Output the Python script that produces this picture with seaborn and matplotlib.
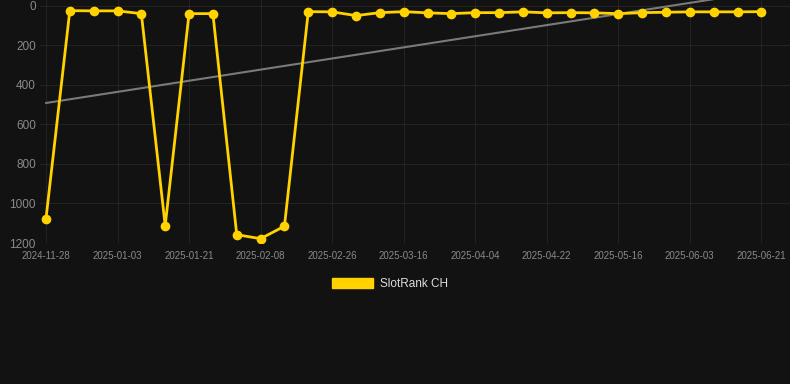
import numpy as np
import pandas as pd
import matplotlib
matplotlib.use("Agg")
import matplotlib.pyplot as plt
from matplotlib.patches import Patch
import seaborn as sns

# dates of each observation (only every third is labelled on the axis)
dates = [
    "2024-11-28", "2024-12-10", "2024-12-22", "2025-01-03", "2025-01-09", "2025-01-15",
    "2025-01-21", "2025-01-27", "2025-02-02", "2025-02-08", "2025-02-14", "2025-02-20",
    "2025-02-26", "2025-03-04", "2025-03-10", "2025-03-16", "2025-03-22", "2025-03-28",
    "2025-04-04", "2025-04-10", "2025-04-16", "2025-04-22", "2025-04-30", "2025-05-08",
    "2025-05-16", "2025-05-22", "2025-05-28", "2025-06-03", "2025-06-09", "2025-06-15",
    "2025-06-21",
]
# rank values (lower = better, axis inverted)
rank = [
    1078, 24, 25, 25, 39, 1112, 39, 39, 1158, 1178, 1115, 29,
    30, 49, 34, 29, 35, 39, 34, 34, 30, 35, 34, 35,
    39, 34, 32, 30, 30, 30, 29,
]
series_name = "SlotRank CH"

bg = "#121212"
yellow = "#FFD200"

df = pd.DataFrame({"pos": np.arange(len(dates)), "date": dates, "rank": rank})

sns.set_theme(style="dark")
plt.rcParams["font.family"] = ["Liberation Sans", "DejaVu Sans"]

fig = plt.figure(figsize=(7.9, 3.84), dpi=100, facecolor=bg)
ax = fig.add_axes([40 / 790, 1 - 243 / 384, 750 / 790, 243 / 384])
ax.set_facecolor(bg)

# trend line (least squares fit of the series)
sns.regplot(data=df, x="pos", y="rank", scatter=False, ci=None, truncate=True,
            color="#7a7a7a", line_kws={"linewidth": 1.5, "zorder": 2}, ax=ax)

sns.lineplot(data=df, x="pos", y="rank", color=yellow, linewidth=2,
             marker="o", markersize=7, markeredgewidth=0, zorder=3, ax=ax)

ax.set_xlim(-0.25, 31.2)
ax.set_ylim(1200, -30)
ax.set_yticks(range(0, 1201, 200))
ticks = df["pos"][::3]
ax.set_xticks(ticks)
ax.set_xticklabels(df["date"][::3])

ax.grid(True, color="#232323", linewidth=0.8)
ax.tick_params(axis="x", colors="#8a8a8a", labelsize=7, length=0, pad=6)
ax.tick_params(axis="y", colors="#8a8a8a", labelsize=8.5, length=0, pad=3)
for s in ax.spines.values():
    s.set_visible(False)
ax.set_xlabel("")
ax.set_ylabel("")

handle = Patch(facecolor=yellow, edgecolor=yellow, label=series_name)
fig.legend(handles=[handle], loc="center", bbox_to_anchor=(390 / 790, 1 - 284 / 384),
           frameon=False, fontsize=8.5, labelcolor="#dddddd",
           handlelength=3.4, handleheight=1.0, handletextpad=0.6)

fig.savefig("out.png", dpi=100, facecolor=bg)
